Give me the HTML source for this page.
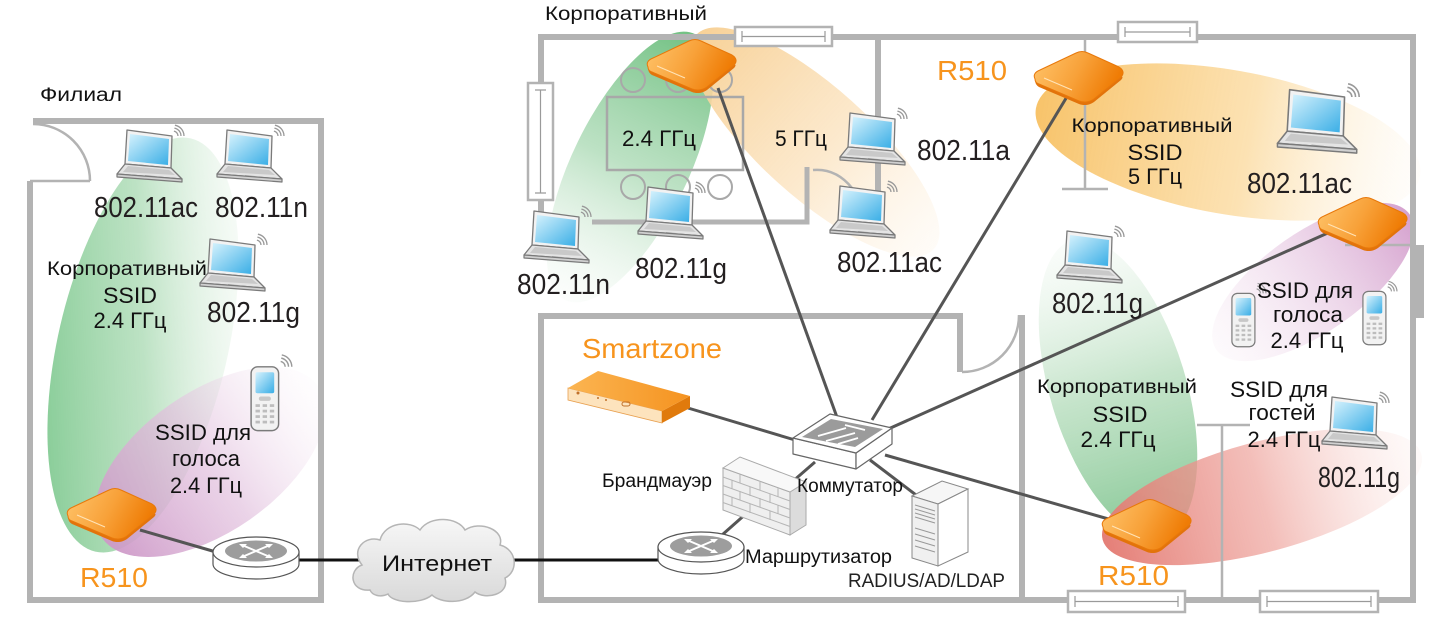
<!DOCTYPE html>
<html><head><meta charset="utf-8">
<style>
html,body{margin:0;padding:0;background:#fff;}
svg{display:block;}
text{font-family:"Liberation Sans","DejaVu Sans",sans-serif;}
.n{font-size:29px;fill:#231f20;}
.t{font-size:19px;fill:#111;}
.t2{font-size:22px;fill:#111;}
.s{font-size:19px;fill:#111;}
.o{font-size:28px;fill:#f7941d;}
.e{mix-blend-mode:multiply;}
.w{fill:none;stroke:#b3b3b3;stroke-width:6;}
.tw{fill:none;stroke:#b3b3b3;stroke-width:2.5;}
.c{fill:none;stroke:#555;stroke-width:3;}
</style></head><body>
<svg width="1442" height="619" viewBox="0 0 1442 619" xmlns="http://www.w3.org/2000/svg">
<defs>
 <linearGradient id="scr" x1="0" y1="0" x2="1" y2="1"><stop offset="0" stop-color="#d6f2fd"/><stop offset="1" stop-color="#3aaee6"/></linearGradient>
 <linearGradient id="apg" x1="0" y1="0" x2="1" y2="0.3"><stop offset="0" stop-color="#ffc56c"/><stop offset="0.55" stop-color="#f8a23a"/><stop offset="1" stop-color="#ef7c05"/></linearGradient>
 <linearGradient id="szt" x1="0" y1="0" x2="1" y2="0"><stop offset="0" stop-color="#fbb552"/><stop offset="1" stop-color="#f59320"/></linearGradient>
 <linearGradient id="cl" x1="0" y1="0" x2="0" y2="1"><stop offset="0" stop-color="#f7f7f7"/><stop offset="1" stop-color="#d9d9d9"/></linearGradient>
 <linearGradient id="gG1" x1="0" y1="0.85" x2="1" y2="0.15"><stop offset="0" stop-color="#7fc990" stop-opacity="1"/><stop offset="0.5" stop-color="#acdbb5" stop-opacity="0.8"/><stop offset="1" stop-color="#f0f8f0" stop-opacity="0.25"/></linearGradient>
 <linearGradient id="gP1" x1="0" y1="0" x2="1" y2="0"><stop offset="0" stop-color="#cd98c7" stop-opacity="0.95"/><stop offset="0.5" stop-color="#e2c1de" stop-opacity="0.7"/><stop offset="1" stop-color="#f8eef6" stop-opacity="0.1"/></linearGradient>
 <linearGradient id="gG2" x1="0" y1="0" x2="0" y2="1"><stop offset="0" stop-color="#72c183" stop-opacity="1"/><stop offset="0.5" stop-color="#a7d8b1" stop-opacity="0.75"/><stop offset="1" stop-color="#eef7ef" stop-opacity="0.2"/></linearGradient>
 <linearGradient id="gY2" x1="0" y1="0" x2="1" y2="0"><stop offset="0" stop-color="#f7cf92" stop-opacity="0.95"/><stop offset="0.55" stop-color="#fbe2bd" stop-opacity="0.75"/><stop offset="1" stop-color="#fef4e6" stop-opacity="0.3"/></linearGradient>
 <linearGradient id="gY3" x1="0" y1="0" x2="1" y2="0"><stop offset="0" stop-color="#f7c062" stop-opacity="0.95"/><stop offset="0.55" stop-color="#fbd899" stop-opacity="0.75"/><stop offset="1" stop-color="#fef4e3" stop-opacity="0.15"/></linearGradient>
 <linearGradient id="gP2" x1="0" y1="0" x2="1" y2="0"><stop offset="0" stop-color="#f5e6f1" stop-opacity="0.2"/><stop offset="1" stop-color="#d39dcc" stop-opacity="0.95"/></linearGradient>
 <linearGradient id="gG3" x1="0" y1="0" x2="0" y2="1"><stop offset="0" stop-color="#eef7ef" stop-opacity="0.3"/><stop offset="0.5" stop-color="#b2dbb9" stop-opacity="0.75"/><stop offset="1" stop-color="#7fc48f" stop-opacity="0.95"/></linearGradient>
 <linearGradient id="gR3" x1="0" y1="0" x2="1" y2="0"><stop offset="0" stop-color="#e37870" stop-opacity="0.95"/><stop offset="0.5" stop-color="#eea39c" stop-opacity="0.7"/><stop offset="1" stop-color="#fbe7e3" stop-opacity="0.2"/></linearGradient>

 <g id="lap">
  <polygon points="12,3 57,9 56,41 10,37" fill="#f2f2f2" stroke="#7a7a7a" stroke-width="1.3" stroke-linejoin="round"/>
  <polygon points="15,7 54,12 53,38 13,34" fill="url(#scr)"/>
  <polygon points="10,37 56,41 67,52 2,47" fill="#e4e4e4" stroke="#7a7a7a" stroke-width="1.3" stroke-linejoin="round"/>
  <polygon points="13,39 54,43 60,48 8,45" fill="#c9c9c9"/>
  <polygon points="30,48 40,49 40,51 29,50" fill="#aaa"/>
  <polygon points="2,47 67,52 67,55 2,50" fill="#d0d0d0" stroke="#7a7a7a" stroke-width="1.2" stroke-linejoin="round"/>
  <g fill="none" stroke="#999" stroke-width="1.3">
   <path d="M58.9,4.1 A5,5 0 0 1 63,9"/>
   <path d="M59.4,1.1 A8,8 0 0 1 66,9"/>
   <path d="M59.9,-1.8 A11,11 0 0 1 69,9"/>
  </g>
 </g>
 <g id="ph">
  <rect x="1" y="8" width="25" height="58" rx="6" fill="#f2f2f2" stroke="#7a7a7a" stroke-width="1.3"/>
  <rect x="5" y="13" width="17" height="19" rx="1.5" fill="url(#scr)"/>
  <rect x="8" y="35" width="11" height="4" rx="2" fill="#c8c8c8"/>
  <g fill="#bdbdbd">
   <rect x="5" y="42" width="4" height="2.5"/><rect x="11.5" y="42" width="4" height="2.5"/><rect x="18" y="42" width="4" height="2.5"/>
   <rect x="5" y="47" width="4" height="2.5"/><rect x="11.5" y="47" width="4" height="2.5"/><rect x="18" y="47" width="4" height="2.5"/>
   <rect x="5" y="52" width="4" height="2.5"/><rect x="11.5" y="52" width="4" height="2.5"/><rect x="18" y="52" width="4" height="2.5"/>
   <rect x="5" y="57" width="4" height="2.5"/><rect x="11.5" y="57" width="4" height="2.5"/><rect x="18" y="57" width="4" height="2.5"/>
  </g>
  <g fill="none" stroke="#999" stroke-width="1.3">
   <path d="M27.9,3.1 A5,5 0 0 1 32,8"/>
   <path d="M28.4,0.1 A8,8 0 0 1 35,8"/>
   <path d="M28.9,-2.8 A11,11 0 0 1 38,8"/>
  </g>
 </g>
 <g id="ap">
  <path d="M3,29 C3,33 4,35 7,37 L47,54 C52,56 58,55 62,52 L89,30 C91,28 91,26 89,27 L62,49 C58,52 52,53 47,51 L7,34 C4,33 3,31 3,29Z" fill="#e2730b"/>
  <path d="M3,29 C1,25 3,22 8,20 L44,3 C48,1 52,1 56,3 L87,17 C92,20 92,24 89,27 L62,49 C58,52 52,53 47,51 L7,34 C4,33 3,31 3,29 Z" fill="url(#apg)" stroke="#e8780a" stroke-width="1"/>
  <path d="M12,28 L40,40" stroke="#ffe4b8" stroke-width="1"/>
 </g>
 <g id="rt">
  <path d="M1,18 V30 A43,15 0 0 0 87,30 V18 Z" fill="#fff" stroke="#555" stroke-width="1.2"/>
  <ellipse cx="44" cy="18" rx="43" ry="15" fill="#fff" stroke="#555" stroke-width="1.2"/>
  <ellipse cx="44" cy="17" rx="31" ry="10.5" fill="#9d9d9d"/>
  <g stroke="#fff" stroke-width="2" fill="none">
   <path d="M30,11 L58,23 M58,11 L30,23"/>
  </g>
  <g fill="#fff">
   <polygon points="27,10 35,10 31,14"/><polygon points="61,10 53,10 57,14"/>
   <polygon points="27,24 35,24 31,20"/><polygon points="61,24 53,24 57,20"/>
  </g>
 </g>
</defs>

<!-- coverage ellipses -->
<g class="e">
 <ellipse cx="0" cy="0" rx="85" ry="212" transform="translate(143,345) rotate(13)" fill="url(#gG1)"/>
 <ellipse cx="0" cy="0" rx="132" ry="70" transform="translate(210,462) rotate(-35)" fill="url(#gP1)"/>
 <ellipse cx="0" cy="0" rx="58" ry="148" transform="translate(630,167) rotate(26)" fill="url(#gG2)"/>
 <ellipse cx="0" cy="0" rx="160" ry="55" transform="translate(815,142) rotate(42)" fill="url(#gY2)"/>
 <ellipse cx="0" cy="0" rx="195" ry="72" transform="translate(1228,142) rotate(10)" fill="url(#gY3)"/>
 <ellipse cx="0" cy="0" rx="118" ry="50" transform="translate(1313,282) rotate(-35)" fill="url(#gP2)"/>
 <ellipse cx="0" cy="0" rx="68" ry="155" transform="translate(1118,388) rotate(-17)" fill="url(#gG3)"/>
 <ellipse cx="0" cy="0" rx="165" ry="55" transform="translate(1262,497) rotate(-15)" fill="url(#gR3)"/>
</g>

<!-- walls -->
<path class="w" d="M33,121 H321 V600 H30 V181"/>
<path class="tw" d="M30,181 H90"/>
<path class="tw" d="M33,124 A57,57 0 0 1 90,181"/>
<path class="w" d="M538,37 H1416"/>
<path class="w" d="M541,37 V240"/>
<path class="w" d="M878,37 V215"/>
<path class="w" d="M1413,37 V603"/>
<path class="w" d="M960,372 V316 H541 V600 H1416"/>
<path class="w" d="M1022,315 V600"/>
<path class="tw" d="M962,372 A57,57 0 0 0 1019,315"/>
<path class="w" style="stroke-width:5" d="M592,222 H807 V167"/>
<path class="tw" d="M813,170 Q836,168 852,188"/>
<path class="tw" d="M1085,37 V189 M1062,189 H1108"/>
<path class="tw" d="M1222,425 V600 M1197,425 H1250"/>
<path class="tw" d="M1345,245 H1413"/>
<rect x="1415" y="245" width="9" height="73" fill="#b3b3b3"/>

<!-- windows -->
<g fill="#fff" stroke="#b3b3b3" stroke-width="2.5">
 <rect x="735" y="27" width="97" height="19"/>
 <rect x="1118" y="22" width="79" height="20"/>
 <rect x="528" y="83" width="25" height="117"/>
 <rect x="1068" y="591" width="117" height="21"/>
 <rect x="1260" y="591" width="118" height="21"/>
</g>
<g fill="none" stroke="#9a9a9a" stroke-width="1.2">
 <path d="M742,36.5 H825 M742,31 V42 M825,31 V42"/>
 <path d="M1125,32 H1190 M1125,27 V37 M1190,27 V37"/>
 <path d="M540.5,90 V193 M535,90 H546 M535,193 H546"/>
 <path d="M1075,601.5 H1178 M1075,596 V607 M1178,596 V607"/>
 <path d="M1267,601.5 H1371 M1267,596 V607 M1371,596 V607"/>
</g>

<!-- conference table & chairs -->
<rect x="607" y="97" width="136" height="73" fill="none" stroke="#a8a8a8" stroke-width="2.5"/>
<g fill="none" stroke="#a8a8a8" stroke-width="2">
 <circle cx="633" cy="80" r="12"/><circle cx="678" cy="80" r="12"/><circle cx="720" cy="80" r="12"/>
 <circle cx="633" cy="187" r="12"/><circle cx="678" cy="187" r="12"/><circle cx="720" cy="187" r="12"/>
</g>

<!-- connectors -->
<g class="c">
 <path d="M140,530 L216,552"/>
 <path d="M718,88 L838,420"/>
 <path d="M1068,95 L872,420"/>
 <path d="M1330,232 L886,430"/>
 <path d="M885,455 L1112,520"/>
 <path d="M688,408 L795,440"/>
 <path d="M815,462 L792,482"/>
 <path d="M870,460 L916,495"/>
 <path d="M722,535 L748,512"/>
</g>
<g fill="none" stroke="#111" stroke-width="3">
 <path d="M297,560 H362"/>
 <path d="M512,560 H662"/>
</g>

<!-- cloud -->
<path d="M370,590 C350,592 348,570 362,565 C350,550 365,535 380,540 C385,522 410,520 420,530 C430,515 458,517 465,530 C480,520 505,530 500,545 C518,550 518,572 505,578 C510,595 485,600 475,592 C465,605 440,603 432,595 C420,605 392,603 388,594 C380,598 372,595 370,590 Z" fill="url(#cl)" stroke="#b5b5b5" stroke-width="1.5"/>

<!-- routers -->
<use href="#rt" transform="translate(212,534)"/>
<use href="#rt" transform="translate(657,529)"/>

<!-- switch -->
<polygon points="793,438 856,453 856,469 793,454" fill="#fff" stroke="#666" stroke-width="1.2" stroke-linejoin="round"/>
<polygon points="856,453 892,428 892,444 856,469" fill="#fff" stroke="#666" stroke-width="1.2" stroke-linejoin="round"/>
<polygon points="793,438 830,414 892,428 856,453" fill="#fff" stroke="#666" stroke-width="1.2" stroke-linejoin="round"/>
<polygon points="802,437 831,419 883,429 855,447" fill="#9b9b9b"/>
<g stroke="#fff" stroke-width="1.8" fill="none">
 <path d="M818,436 L846,428 M826,441 L855,433 M845,425 L865,430 M838,444 L858,438"/>
</g>

<!-- smartzone device -->
<polygon points="568,388 662,411 662,423 568,400" fill="#fde3bd" stroke="#e8a050" stroke-width="0.8"/>
<polygon points="662,411 690,396 690,408 662,423" fill="#e07a0c"/>
<polygon points="568,388 598,371 690,396 662,411" fill="url(#szt)"/>
<g fill="#c0702a"><circle cx="578" cy="393" r="1.5"/><circle cx="598" cy="398" r="1"/><circle cx="606" cy="400" r="1"/><rect x="622" y="402" width="8" height="4" rx="2" fill="none" stroke="#c0702a"/></g>

<!-- firewall -->
<polygon points="723,468 790,492 790,535 723,510" fill="#efefef" stroke="#aaa" stroke-width="1"/>
<polygon points="790,492 806,482 806,525 790,535" fill="#dcdcdc" stroke="#aaa" stroke-width="1"/>
<polygon points="723,468 740,457 806,482 790,492" fill="#f8f8f8" stroke="#aaa" stroke-width="1"/>
<g stroke="#b5b5b5" stroke-width="1" fill="none">
 <path d="M723,477 L790,501 M723,485.5 L790,509.5 M723,494 L790,518 M723,502.5 L790,526.5"/>
 <path d="M740,474 V483 M760,481 V490 M778,488 V497 M732,480 V489 M750,487 V496 M770,494 V503 M740,491 V500 M760,498 V507 M778,505 V514 M732,497 V506 M750,504 V513 M770,511 V520"/>
</g>

<!-- server -->
<polygon points="912,496 942,481 968,489 938,504" fill="#f6f6f6" stroke="#888" stroke-width="1"/>
<polygon points="912,496 938,504 938,566 912,558" fill="#f0f0f0" stroke="#888" stroke-width="1"/>
<polygon points="938,504 968,489 968,552 938,566" fill="#fff" stroke="#888" stroke-width="1"/>
<g stroke="#999" stroke-width="1" fill="none">
 <path d="M915,505 L935,511 M915,509 L935,515 M915,513 L935,519 M915,517 L935,523"/>
 <path d="M915,528 L935,534 M915,534 L935,540 M915,540 L935,546 M915,546 L935,552"/>
</g>

<!-- laptops -->
<use href="#lap" transform="translate(115,127)"/>
<use href="#lap" transform="translate(215,127)"/>
<use href="#lap" transform="translate(198,236)"/>
<use href="#lap" transform="translate(522,208)"/>
<use href="#lap" transform="translate(636,184)"/>
<use href="#lap" transform="translate(838,110)"/>
<use href="#lap" transform="translate(828,183)"/>
<use href="#lap" transform="translate(1275,86) scale(1.22)"/>
<use href="#lap" transform="translate(1055,228)"/>
<use href="#lap" transform="translate(1320,394)"/>

<!-- phones -->
<use href="#ph" transform="translate(250,358) scale(1.1)"/>
<use href="#ph" transform="translate(1231,286) scale(0.92)"/>
<use href="#ph" transform="translate(1362,284) scale(0.92)"/>

<!-- APs -->
<use href="#ap" transform="translate(65,487)"/>
<use href="#ap" transform="translate(645,38)"/>
<use href="#ap" transform="translate(1032,50)"/>
<use href="#ap" transform="translate(1316,196)"/>
<use href="#ap" transform="translate(1100,498)"/>

<!-- texts -->
<text class="t" x="40" y="101" textLength="82" lengthAdjust="spacingAndGlyphs">Филиал</text>
<text class="t" x="545" y="20" textLength="162" lengthAdjust="spacingAndGlyphs">Корпоративный</text>

<text class="n" x="94" y="217" textLength="104" lengthAdjust="spacingAndGlyphs">802.11ac</text>
<text class="n" x="215" y="217" textLength="93" lengthAdjust="spacingAndGlyphs">802.11n</text>
<text class="n" x="207" y="322" textLength="93" lengthAdjust="spacingAndGlyphs">802.11g</text>
<text class="n" x="517" y="294" textLength="93" lengthAdjust="spacingAndGlyphs">802.11n</text>
<text class="n" x="635" y="278" textLength="92" lengthAdjust="spacingAndGlyphs">802.11g</text>
<text class="n" x="917" y="160" textLength="93" lengthAdjust="spacingAndGlyphs">802.11a</text>
<text class="n" x="837" y="272" textLength="105" lengthAdjust="spacingAndGlyphs">802.11ac</text>
<text class="n" x="1247" y="193" textLength="105" lengthAdjust="spacingAndGlyphs">802.11ac</text>
<text class="n" x="1052" y="313" textLength="91" lengthAdjust="spacingAndGlyphs">802.11g</text>
<text class="n" x="1318" y="487" textLength="82" lengthAdjust="spacingAndGlyphs">802.11g</text>

<g text-anchor="middle">
 <text class="t" x="127" y="275" textLength="160" lengthAdjust="spacingAndGlyphs">Корпоративный</text>
 <text class="t2" x="130" y="303" textLength="54" lengthAdjust="spacingAndGlyphs">SSID</text>
 <text class="t2" x="130" y="328" textLength="73" lengthAdjust="spacingAndGlyphs">2.4 ГГц</text>
 <text class="t2" x="203" y="440" textLength="96" lengthAdjust="spacingAndGlyphs">SSID для</text>
 <text class="t2" x="206" y="466" textLength="68" lengthAdjust="spacingAndGlyphs">голоса</text>
 <text class="t2" x="206" y="493" textLength="72" lengthAdjust="spacingAndGlyphs">2.4 ГГц</text>
 <text class="t" x="1152" y="132" textLength="161" lengthAdjust="spacingAndGlyphs">Корпоративный</text>
 <text class="t2" x="1155" y="160" textLength="55" lengthAdjust="spacingAndGlyphs">SSID</text>
 <text class="t2" x="1155" y="184" textLength="54" lengthAdjust="spacingAndGlyphs">5 ГГц</text>
 <text class="t2" x="1305" y="298" textLength="96" lengthAdjust="spacingAndGlyphs">SSID для</text>
 <text class="t2" x="1308" y="322" textLength="70" lengthAdjust="spacingAndGlyphs">голоса</text>
 <text class="t2" x="1307" y="348" textLength="73" lengthAdjust="spacingAndGlyphs">2.4 ГГц</text>
 <text class="t" x="1117" y="393" textLength="160" lengthAdjust="spacingAndGlyphs">Корпоративный</text>
 <text class="t2" x="1120" y="422" textLength="55" lengthAdjust="spacingAndGlyphs">SSID</text>
 <text class="t2" x="1118" y="447" textLength="75" lengthAdjust="spacingAndGlyphs">2.4 ГГц</text>
 <text class="t2" x="1279" y="397" textLength="98" lengthAdjust="spacingAndGlyphs">SSID для</text>
 <text class="t2" x="1282" y="420" textLength="67" lengthAdjust="spacingAndGlyphs">гостей</text>
 <text class="t2" x="1284" y="447" textLength="73" lengthAdjust="spacingAndGlyphs">2.4 ГГц</text>
</g>
<text class="t2" x="622" y="146" textLength="74" lengthAdjust="spacingAndGlyphs">2.4 ГГц</text>
<text class="t2" x="775" y="146" textLength="52" lengthAdjust="spacingAndGlyphs">5 ГГц</text>

<text class="o" x="80" y="587" textLength="68" lengthAdjust="spacingAndGlyphs">R510</text>
<text class="o" x="937" y="80" textLength="70" lengthAdjust="spacingAndGlyphs">R510</text>
<text class="o" x="1098" y="585" textLength="71" lengthAdjust="spacingAndGlyphs">R510</text>
<text class="o" x="582" y="358" textLength="140" lengthAdjust="spacingAndGlyphs">Smartzone</text>

<text class="s" x="602" y="487" textLength="110" lengthAdjust="spacingAndGlyphs">Брандмауэр</text>
<text class="s" x="797" y="492" textLength="106" lengthAdjust="spacingAndGlyphs">Коммутатор</text>
<text class="s" x="745" y="563" textLength="147" lengthAdjust="spacingAndGlyphs">Маршрутизатор</text>
<text class="s" x="848" y="587" textLength="157" lengthAdjust="spacingAndGlyphs" style="fill:#222">RADIUS/AD/LDAP</text>
<text x="437" y="571" text-anchor="middle" style="font-size:22px;fill:#111" textLength="110" lengthAdjust="spacingAndGlyphs">Интернет</text>
</svg>
</body></html>
